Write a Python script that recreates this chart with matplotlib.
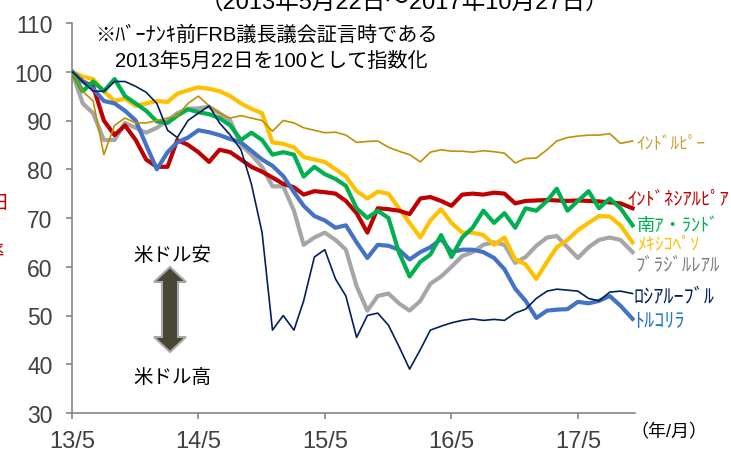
import pandas as pd
import matplotlib
matplotlib.use('Agg')
import matplotlib.pyplot as plt
from matplotlib.patches import Polygon

plt.rcParams['font.family'] = ['Liberation Sans', 'Noto Sans CJK JP', 'DejaVu Sans']

W, H = 731, 452

# monthly samples from 2013/5/22, last one is 2017/10/27
dates = pd.date_range('2013-05-22', periods=53, freq=pd.DateOffset(months=1))
dates = dates.append(pd.DatetimeIndex(['2017-10-27']))

inr = [100, 96, 94, 83, 89, 90.5, 89.5, 89.5, 90, 90.5, 91, 93.5, 95, 93, 91.5, 90.5,
       91, 90.5, 90, 87.8, 90, 89.5, 88.5, 88, 87.5, 87.6, 87, 85.5, 85.7, 85.8, 84.5,
       83.7, 83, 81.5, 83.5, 84, 83.7, 83.7, 83.5, 83.8, 83.6, 83.3, 81.3, 82.2, 82.3,
       84, 85.8, 86.5, 86.8, 87, 87, 87.3, 85.3, 85.8]
idr = [100, 98, 97, 90, 87, 89, 86, 82, 80.5, 80.5, 86, 85, 83.5, 81.5, 84, 83.5,
       82, 80.5, 79.5, 78.3, 77, 76.3, 74.8, 75.5, 75.3, 75, 73.5, 71, 67, 72, 71.8,
       71.5, 70.8, 74, 74.3, 73.5, 72.5, 74.8, 75, 74.8, 75.2, 75, 73, 73.5, 73.6,
       73.7, 73.6, 73.5, 73.6, 73.5, 73.4, 73.2, 73, 72]
zar = [100, 96, 98, 96, 98.5, 95, 93.5, 92, 89.8, 89.5, 91, 92.3, 91.7, 91.3, 90.5, 89,
       86, 87.5, 86, 83, 83.5, 83, 78.5, 80.5, 79, 78, 76.6, 72, 70, 71.5, 70, 63, 58,
       61, 62.5, 66.5, 62, 66, 68, 71.5, 69, 71, 68, 72, 71.5, 73.5, 76, 71.5, 73.5,
       75.5, 72, 74, 72, 68.5]
mxn = [100, 99, 98.5, 96, 94, 94.5, 93, 93.5, 94, 93.8, 95.5, 96.2, 96.8, 96.5, 96, 95,
       93.5, 92.4, 91.5, 85.5, 85.2, 84.5, 82.5, 82, 81.5, 80, 78.5, 75.5, 74, 75.4, 75,
       72, 69, 66, 69.5, 71.8, 69, 67, 67, 66.5, 64.5, 66, 61.5, 60.5, 57.5, 61, 64,
       65.5, 67.5, 69, 70.4, 70.3, 68.5, 65]
brl = [100, 93.5, 91.5, 86, 86, 89.5, 88.5, 87.5, 88.5, 90, 91.5, 92.4, 92.5, 92.8,
       91.5, 90, 85, 83, 80.5, 76.5, 76.5, 71.5, 64.5, 66, 67, 65.5, 63.5, 56, 51, 54,
       54.5, 52.5, 51, 53, 56.5, 58, 60, 62.2, 63, 64.5, 65, 64.5, 60.8, 62, 64.3, 66,
       66.3, 64, 61.8, 64, 65.5, 66, 65.5, 63]
rub = [100, 98, 96, 96, 98, 98, 97, 95.8, 93.5, 88, 86.5, 90, 91.5, 93, 89.5, 87, 84,
       77, 67, 47, 50, 47, 53, 62, 63.5, 57.5, 54, 45.5, 50, 50.5, 48, 43.7, 39, 43, 47,
       47.8, 48.5, 49, 49.3, 49, 49.2, 49, 50.5, 51.3, 53.5, 55, 55.4, 55.2, 55, 53.5,
       53, 54.8, 55, 54.5]
tryl = [100, 98, 96.5, 94, 93.5, 92, 90, 85, 80, 83.5, 85.5, 86.5, 88, 87.6, 87, 86.2,
        85.5, 83.8, 82, 80.7, 78.6, 75.3, 72.5, 70.4, 69.5, 68, 68.5, 65, 61.8, 64.5,
        64.3, 63.5, 61.5, 63, 64, 65.7, 63, 63.5, 63.5, 63, 61.8, 59.5, 55.5, 53, 49.5,
        51, 51.2, 51.3, 52.8, 52.5, 53, 54, 52, 49.3]

x_ticks = pd.to_datetime(['2013-05-22', '2014-05-22', '2015-05-22', '2016-05-22', '2017-05-22'])
x_labels = ['13/5', '14/5', '15/5', '16/5', '17/5']

# (values, color, linewidth, zorder)
series = [
    (brl, '#A6A6A6', 3.0, 1),
    (mxn, '#FFC000', 3.0, 2),
    (idr, '#C00000', 3.0, 3),
    (tryl, '#4472C4', 3.0, 4),
    (zar, '#00B050', 3.0, 5),
    (inr, '#BF9000', 1.2, 6),
    (rub, '#002060', 1.2, 7),
]

# series name, label color, left x px, center y px, font size
labels = [
    ('ｲﾝﾄﾞﾙﾋﾟｰ', '#C8A02A', 636, 143, 12.5),
    ('ｲﾝﾄﾞﾈｼｱﾙﾋﾟｱ', '#C00000', 627, 200, 13.3),
    ('南ｱ・ﾗﾝﾄﾞ', '#00B050', 637, 226, 13.2),
    ('ﾒｷｼｺﾍﾟｿ', '#FFC000', 637, 245, 12.8),
    ('ﾌﾞﾗｼﾞﾙﾚｱﾙ', '#7F7F7F', 636, 266, 13.5),
    ('ﾛｼｱﾙｰﾌﾞﾙ', '#002060', 634, 297, 14.5),
    ('ﾄﾙｺﾘﾗ', '#1F78D0', 634, 322, 14.5),
]


def fx(px):
    return px / W


def fy(py):
    return 1 - py / H


fig = plt.figure(figsize=(W / 100, H / 100), dpi=100)
ax = fig.add_axes([fx(72), 1 - 414 / H, 563 / W, 390 / H])

for vals, col, lw, z in series:
    ax.plot(dates, vals, color=col, lw=lw, zorder=z, solid_joinstyle='round')

ax.set_ylim(30, 110)
ax.set_yticks(range(30, 111, 10))
ax.set_xlim(pd.Timestamp('2013-05-22'), pd.Timestamp('2017-11-03'))
ax.set_xticks(x_ticks)
ax.set_xticklabels(x_labels)

for s in ['top', 'right']:
    ax.spines[s].set_visible(False)
for s in ['left', 'bottom']:
    ax.spines[s].set_color('#868686')
    ax.spines[s].set_linewidth(1.2)
ax.tick_params(direction='out', length=4.5, width=1.2, color='#868686',
               labelcolor='#404040', labelsize=16.5)
ax.tick_params(axis='y', pad=9.5)
ax.tick_params(axis='x', pad=8, labelsize=17)

for name, col, px, py, fs in labels:
    fig.text(fx(px), fy(py), name, color=col, fontsize=fs, ha='left', va='center')

fig.text(fx(404), fy(2.5), '（2013年5月22日～2017年10月27日）', fontsize=17,
         ha='center', va='center', color='#000000')
fig.text(fx(95), fy(35), '※ﾊﾞｰﾅﾝｷ前FRB議長議会証言時である', fontsize=14.5,
         ha='left', va='center')
fig.text(fx(115), fy(61), '2013年5月22日を100として指数化', fontsize=14.5,
         ha='left', va='center')
fig.text(fx(172), fy(256), '米ドル安', fontsize=14, ha='center', va='center')
fig.text(fx(172), fy(378), '米ドル高', fontsize=14, ha='center', va='center')
fig.text(fx(630), fy(433), '（年/月）', fontsize=13, ha='left', va='center',
         color='#000000')

# cut-off red axis title fragments at the left edge
fig.text(fx(9), fy(205), '日', fontsize=14, color='#C00000', ha='right', va='center')
fig.text(fx(4), fy(253), '率', fontsize=14, color='#C00000', ha='right', va='center')

# double arrow between the two notes
pts = [(170, 268), (186, 283), (178, 283), (178, 338), (186, 338), (170, 353),
       (154, 338), (162, 338), (162, 283), (154, 283)]
arrow = Polygon([(fx(a), fy(b)) for a, b in pts], closed=True,
                transform=fig.transFigure, facecolor='#474733',
                edgecolor='#A8A8A8', lw=1.5)
fig.patches.append(arrow)

fig.savefig('out.png', dpi=100)
